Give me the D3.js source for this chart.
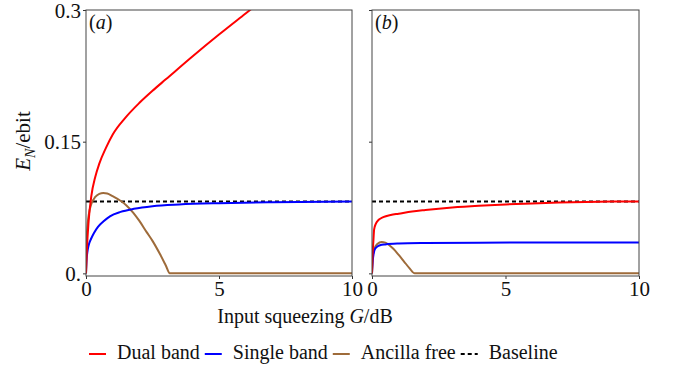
<!DOCTYPE html>
<html>
<head>
<meta charset="utf-8">
<script src="https://cdn.jsdelivr.net/npm/d3@7"></script>
<style>
  body { margin: 0; background: #fff; }
  svg text { font-family: "Liberation Serif", "Times New Roman", serif; fill: #111; }
</style>
</head>
<body>
<div id="chart"></div>
<script>
const SERIF = '"Liberation Serif", "Times New Roman", serif';

// tick values and labels
const xTicks = [0, 5, 10];
const yTicks = [0, 0.15, 0.3];
const yTickLabels = ["0.", "0.15", "0.3"];
const baselineValue = 0.082;

// panel (a)
const dualA_G = [0, 0.03, 0.1, 0.2, 0.35, 0.5, 0.75, 1, 1.5, 2, 2.5, 3, 4, 5, 6, 6.5];
const dualA_E = [0, 0.025, 0.06, 0.088, 0.11, 0.125, 0.143, 0.158, 0.178, 0.194, 0.208, 0.221, 0.247, 0.272, 0.296, 0.308];
const singleA_G = [0, 0.02, 0.05, 0.1, 0.2, 0.3, 0.45, 0.65, 0.9, 1.3, 1.8, 2.5, 3.5, 5, 7, 10];
const singleA_E = [0, 0.015, 0.024, 0.032, 0.04, 0.046, 0.053, 0.059, 0.065, 0.07, 0.0735, 0.0765, 0.0785, 0.08, 0.081, 0.082];
const freeA_G = [0, 0.02, 0.05, 0.1, 0.2, 0.35, 0.5, 0.65, 0.8, 1.0, 1.28, 1.5, 1.78, 2.0, 2.28, 2.5, 2.78, 3.0, 3.15, 10];
const freeA_E = [0, 0.035, 0.052, 0.066, 0.079, 0.087, 0.0905, 0.0915, 0.091, 0.088, 0.083, 0.078, 0.069, 0.06, 0.047, 0.037, 0.022, 0.009, 0, 0];

// panel (b)
const dualB_G = [0, 0.02, 0.05, 0.08, 0.15, 0.25, 0.42, 0.7, 1.0, 1.5, 2, 3, 4, 5, 6, 7, 8, 9, 10];
const dualB_E = [0, 0.02, 0.036, 0.05, 0.057, 0.061, 0.064, 0.0665, 0.068, 0.0705, 0.0722, 0.075, 0.077, 0.0785, 0.0797, 0.0806, 0.0813, 0.0818, 0.082];
const singleB_G = [0, 0.03, 0.06, 0.1, 0.2, 0.3, 0.5, 1, 2, 4, 10];
const singleB_E = [0, 0.015, 0.022, 0.027, 0.0305, 0.032, 0.033, 0.034, 0.0346, 0.035, 0.0352];
const freeB_G = [0, 0.02, 0.05, 0.1, 0.2, 0.36, 0.5, 0.65, 0.8, 1.0, 1.2, 1.4, 1.6, 10];
const freeB_E = [0, 0.015, 0.024, 0.029, 0.0335, 0.0357, 0.035, 0.032, 0.028, 0.021, 0.0135, 0.006, 0, 0];

const seriesNames = ["Dual band", "Single band", "Ancilla free", "Baseline"];
const colors = ["#ff0000", "#0000ff", "#9e6b3a", "#000000"];

const width = 676, height = 373;
const svg = d3.select("#chart").append("svg")
  .attr("width", width).attr("height", height)
  .attr("font-family", SERIF);

const y = d3.scaleLinear().domain([-0.003, 0.3]).range([276, 10]);

const panels = [
  { id: "a", label: "a", left: 86, right: 352, showY: true,
    series: [[dualA_G, dualA_E], [singleA_G, singleA_E], [freeA_G, freeA_E]] },
  { id: "b", label: "b", left: 372, right: 639, showY: false,
    series: [[dualB_G, dualB_E], [singleB_G, singleB_E], [freeB_G, freeB_E]] }
];

panels.forEach(p => {
  const x = d3.scaleLinear().domain([0, 10]).range([p.left, p.right]);
  const g = svg.append("g");

  g.append("clipPath").attr("id", "clip-" + p.id)
    .append("rect")
    .attr("x", p.left).attr("y", y.range()[1])
    .attr("width", p.right - p.left).attr("height", y.range()[0] - y.range()[1]);

  // axes
  const xAxis = g.append("g")
    .attr("transform", `translate(0,${y.range()[0]})`)
    .call(d3.axisBottom(x).tickValues(xTicks).tickSize(3).tickFormat(d3.format("d")));
  xAxis.attr("font-family", SERIF);
  xAxis.select(".domain").remove();
  xAxis.selectAll("line").attr("stroke", "#333");
  xAxis.selectAll("text").attr("font-size", 21).attr("dy", 0).attr("y", 20)
    .attr("font-family", SERIF).attr("fill", "#111");

  const yAxis = g.append("g")
    .attr("transform", `translate(${p.left},0)`)
    .call(d3.axisLeft(y).tickValues(yTicks).tickSize(3)
      .tickFormat((d, i) => p.showY ? yTickLabels[i] : ""));
  yAxis.attr("font-family", SERIF);
  yAxis.select(".domain").remove();
  yAxis.selectAll("line").attr("stroke", "#333");
  yAxis.selectAll("text").attr("font-size", 21).attr("dy", 7).attr("x", -5)
    .attr("font-family", SERIF).attr("fill", "#111");

  // baseline
  g.append("line")
    .attr("clip-path", `url(#clip-${p.id})`)
    .attr("x1", x(0)).attr("x2", x(10))
    .attr("y1", y(baselineValue)).attr("y2", y(baselineValue))
    .attr("stroke", colors[3]).attr("stroke-width", 2)
    .attr("stroke-dasharray", "4,3");

  const line = d3.line()
    .x(d => x(d[0])).y(d => y(d[1]))
    .curve(d3.curveMonotoneX);

  // draw free first so dual/single overlap like reference
  [2, 1, 0].forEach(k => {
    const [gs, es] = p.series[k];
    g.append("path")
      .attr("clip-path", `url(#clip-${p.id})`)
      .attr("d", line(gs.map((v, i) => [v, es[i]])))
      .attr("fill", "none")
      .attr("stroke", colors[k])
      .attr("stroke-width", 2);
  });

  // frame
  g.append("rect")
    .attr("x", p.left).attr("y", y.range()[1])
    .attr("width", p.right - p.left).attr("height", y.range()[0] - y.range()[1])
    .attr("fill", "none").attr("stroke", "#444").attr("stroke-width", 1);

  // panel label
  const lab = g.append("text")
    .attr("x", p.left + 3).attr("y", 29).attr("font-size", 20);
  lab.append("tspan").text("(");
  lab.append("tspan").attr("font-style", "italic").text(p.label);
  lab.append("tspan").text(")");
});

// y label
const yl = svg.append("text")
  .attr("transform", "translate(30,141) rotate(-90)")
  .attr("text-anchor", "middle")
  .attr("font-size", 21);
yl.append("tspan").attr("font-style", "italic").text("E");
yl.append("tspan").attr("font-style", "italic").attr("font-size", 14).attr("dy", 5).text("N");
yl.append("tspan").attr("dy", -5).text("/ebit");

// x label
const xl = svg.append("text")
  .attr("x", 305).attr("y", 323)
  .attr("text-anchor", "middle")
  .attr("font-size", 20);
xl.append("tspan").text("Input squeezing ");
xl.append("tspan").attr("font-style", "italic").text("G");
xl.append("tspan").text("/dB");

// legend
let lx = 89;
const legY = 354;
seriesNames.forEach((name, i) => {
  svg.append("line")
    .attr("x1", lx).attr("x2", lx + 17)
    .attr("y1", legY).attr("y2", legY)
    .attr("stroke", colors[i]).attr("stroke-width", 2)
    .attr("stroke-dasharray", i === 3 ? "4,3" : null);
  const t = svg.append("text")
    .attr("x", lx + 28).attr("y", legY + 5)
    .attr("font-size", 20)
    .attr("font-family", SERIF)
    .text(name);
  lx += 28 + t.node().getComputedTextLength() + 5;
});
</script>
</body>
</html>
